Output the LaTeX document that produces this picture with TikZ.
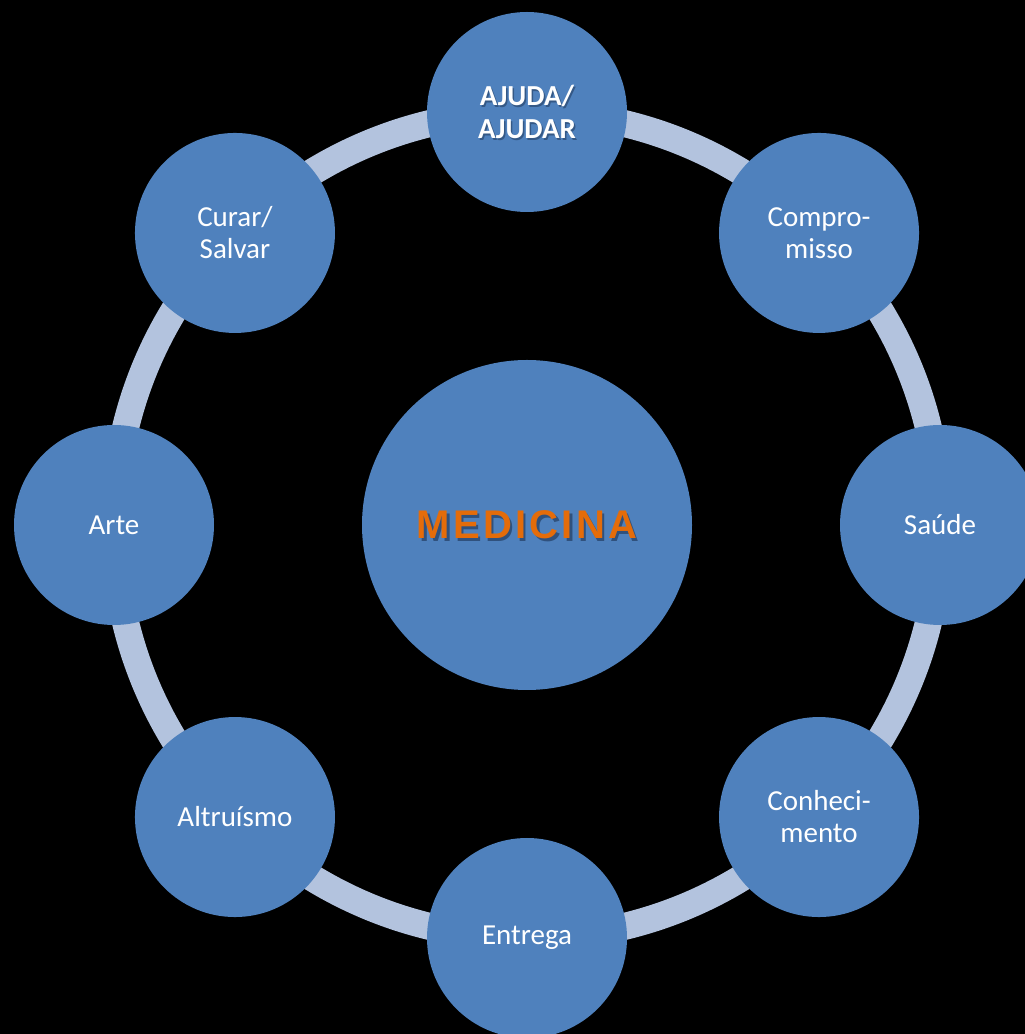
\documentclass[tikz,border=0pt]{standalone}
\usepackage{fontspec}
\setmainfont{Carlito}
\newfontfamily\medfont[LetterSpace=8]{Liberation Sans}
\definecolor{nodeblue}{HTML}{4F81BD}
\definecolor{ringc}{HTML}{B3C3DE}
\definecolor{medorange}{HTML}{E46C0A}
\definecolor{shadowc}{HTML}{233E62}
\tikzset{
  ring/.style={draw=ringc, line width=27pt},
  hub/.style={circle, fill=nodeblue, minimum size=330pt, inner sep=0pt},
  sat/.style={circle, fill=nodeblue, minimum size=200pt, inner sep=0pt, text=white,
    align=center, font=\fontsize{29}{32}\selectfont},
  medtxt/.style={font=\medfont\bfseries\fontsize{40}{42}\selectfont, inner sep=0pt},
  boldtxt/.style={align=center, font=\bfseries\fontsize{29}{33}\selectfont, inner sep=0pt}
}
\begin{document}
\begin{tikzpicture}[x=1pt,y=1pt]
\fill[black] (0,0) rectangle (1025,1034);
\useasboundingbox (0,0) rectangle (1025,1034);
\coordinate (c) at (527,509);
\draw[ring] (c) circle (413);
\node[hub] (med) at (c) {};
\node[medtxt, text=shadowc, opacity=0.7] (medshadow) at ([shift={(2.5,-2.5)}]c) {MEDICINA};
\node[medtxt, text=medorange] (medlabel) at (c) {MEDICINA};
\node[sat] (ajuda) at ([shift={(90:413)}]c) {};
\node[boldtxt, text=shadowc, opacity=0.6] (ajudashadow) at ([shift={(1.5,-1.5)}]ajuda.center) {AJUDA/\\AJUDAR};
\node[boldtxt, text=white] (ajudalabel) at (ajuda.center) {AJUDA/\\AJUDAR};
\node[sat] (compro) at ([shift={(45:413)}]c) {Compro-\\misso};
\node[sat] (saude) at ([shift={(0:413)}]c) {Saúde};
\node[sat] (conhec) at ([shift={(-45:413)}]c) {Conheci-\\mento};
\node[sat] (entrega) at ([shift={(-90:413)}]c) {Entrega};
\node[sat] (altru) at ([shift={(-135:413)}]c) {Altruísmo};
\node[sat] (arte) at ([shift={(180:413)}]c) {Arte};
\node[sat] (curar) at ([shift={(135:413)}]c) {Curar/\\Salvar};
\end{tikzpicture}
\end{document}
